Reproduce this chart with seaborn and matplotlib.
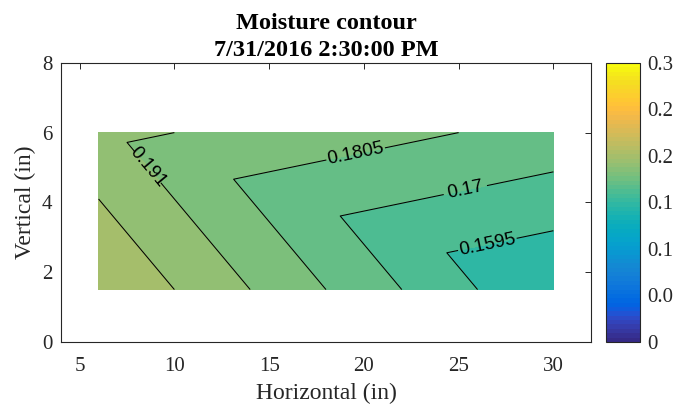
import numpy as np
import matplotlib
matplotlib.use("Agg")
import matplotlib.pyplot as plt
import matplotlib.tri as mtri
from matplotlib.colors import ListedColormap, Normalize
from matplotlib.cm import ScalarMappable
import seaborn as sns

# Sensor locations (in) and measured moisture content
sensor_x = [6, 6, 30, 30]
sensor_y = [1.5, 6, 1.5, 6]
moisture = [0.212, 0.1938, 0.149, 0.177]

# Contour levels and labelled lines
levels = [0.149, 0.1595, 0.17, 0.1805, 0.191, 0.2015, 0.212]
labelled_levels = [0.1595, 0.17, 0.1805, 0.191]

# Colorbar ticks and their labels
cbar_ticks = [0, 0.05, 0.1, 0.15, 0.2, 0.25, 0.3]
cbar_labels = ["0", "0.0", "0.1", "0.1", "0.2", "0.2", "0.3"]

x_ticks = [5, 10, 15, 20, 25, 30]
y_ticks = [0, 2, 4, 6, 8]

# Parula colormap table
parula_data = [
    [0.2081, 0.1663, 0.5292], [0.2116, 0.1898, 0.5777], [0.2123, 0.2138, 0.6270],
    [0.2081, 0.2386, 0.6771], [0.1959, 0.2645, 0.7279], [0.1707, 0.2919, 0.7792],
    [0.1253, 0.3242, 0.8303], [0.0591, 0.3598, 0.8683], [0.0117, 0.3875, 0.8820],
    [0.0060, 0.4086, 0.8828], [0.0165, 0.4266, 0.8786], [0.0329, 0.4430, 0.8720],
    [0.0498, 0.4586, 0.8641], [0.0629, 0.4737, 0.8554], [0.0723, 0.4887, 0.8467],
    [0.0779, 0.5040, 0.8384], [0.0793, 0.5200, 0.8312], [0.0749, 0.5375, 0.8263],
    [0.0641, 0.5570, 0.8240], [0.0488, 0.5772, 0.8228], [0.0343, 0.5966, 0.8199],
    [0.0265, 0.6137, 0.8135], [0.0239, 0.6287, 0.8038], [0.0231, 0.6418, 0.7913],
    [0.0228, 0.6535, 0.7768], [0.0267, 0.6642, 0.7607], [0.0384, 0.6743, 0.7436],
    [0.0590, 0.6838, 0.7254], [0.0843, 0.6928, 0.7062], [0.1133, 0.7015, 0.6859],
    [0.1453, 0.7098, 0.6646], [0.1801, 0.7177, 0.6424], [0.2178, 0.7250, 0.6193],
    [0.2586, 0.7317, 0.5954], [0.3022, 0.7376, 0.5712], [0.3482, 0.7424, 0.5473],
    [0.3953, 0.7459, 0.5244], [0.4420, 0.7481, 0.5033], [0.4871, 0.7491, 0.4840],
    [0.5300, 0.7491, 0.4661], [0.5709, 0.7485, 0.4494], [0.6099, 0.7473, 0.4337],
    [0.6473, 0.7456, 0.4188], [0.6834, 0.7435, 0.4044], [0.7184, 0.7411, 0.3905],
    [0.7525, 0.7384, 0.3768], [0.7858, 0.7356, 0.3633], [0.8185, 0.7327, 0.3498],
    [0.8507, 0.7299, 0.3360], [0.8824, 0.7274, 0.3217], [0.9139, 0.7258, 0.3063],
    [0.9450, 0.7261, 0.2886], [0.9739, 0.7314, 0.2666], [0.9938, 0.7455, 0.2403],
    [0.9990, 0.7653, 0.2164], [0.9955, 0.7861, 0.1967], [0.9880, 0.8066, 0.1794],
    [0.9789, 0.8271, 0.1633], [0.9697, 0.8481, 0.1475], [0.9626, 0.8705, 0.1309],
    [0.9589, 0.8949, 0.1132], [0.9598, 0.9218, 0.0948], [0.9661, 0.9514, 0.0755],
    [0.9763, 0.9831, 0.0538],
]
parula = ListedColormap(parula_data, name="parula")
norm = Normalize(vmin=0, vmax=0.3)

sns.set_theme(style="white")
plt.rcParams["font.family"] = ["Liberation Serif", "DejaVu Serif"]
axis_gray = (0.15, 0.15, 0.15)

fig = plt.figure(figsize=(6.82, 4.08), dpi=100)
ax = fig.add_axes([0.089, 0.162, 0.778, 0.684])
cax = fig.add_axes([0.889, 0.162, 0.050, 0.684])

# Linear interpolation over the two triangles sharing the (6,6)-(30,1.5) diagonal
tri = mtri.Triangulation(sensor_x, sensor_y, triangles=[[0, 2, 1], [1, 2, 3]])
fill_colors = [parula(norm(lv)) for lv in levels[:-1]]
ax.tricontourf(tri, moisture, levels=levels, colors=fill_colors)
lines = ax.tricontour(tri, moisture, levels=levels[1:-1], colors="black", linewidths=0.75)
fmt = {lv: f"{lv:g}" for lv in levels}
ax.clabel(lines, levels=labelled_levels, fmt=fmt, inline=True, inline_spacing=10,
          fontsize=13.5, manual=[(8.6, 5.0), (19.6, 5.35), (25.4, 4.3), (26.6, 2.7)],
          use_clabeltext=True)
for t in lines.labelTexts:
    t.set_fontfamily(["Liberation Sans", "DejaVu Sans"])

ax.set_xlim(4, 32)
ax.set_ylim(0, 8)
ax.set_xticks(x_ticks)
ax.set_yticks(y_ticks)
ax.tick_params(direction="in", length=4, width=0.7, colors=axis_gray, labelsize=15,
               top=True, right=True, labeltop=False, labelright=False)
ax.tick_params(axis="x", pad=11)
ax.tick_params(axis="y", pad=6)
for sp in ax.spines.values():
    sp.set_color(axis_gray)
    sp.set_linewidth(0.8)
ax.set_xlabel("Horizontal (in)", fontsize=17, color=axis_gray, labelpad=5)
ax.set_ylabel("Vertical (in)", fontsize=17, color=axis_gray, labelpad=4)
ax.set_title("Moisture contour\n7/31/2016 2:30:00 PM", fontsize=17.5, fontweight="bold",
             color="black", pad=5, linespacing=1.35)

sm = ScalarMappable(norm=norm, cmap=parula)
cb = fig.colorbar(sm, cax=cax)
cb.set_ticks(cbar_ticks)
cb.set_ticklabels(cbar_labels)
cb.ax.tick_params(direction="in", length=3, width=0.7, colors=axis_gray, labelsize=15,
                  left=False, right=True, pad=5)
cb.outline.set_edgecolor(axis_gray)
cb.outline.set_linewidth(0.8)

fig.savefig("out.png", dpi=100)
